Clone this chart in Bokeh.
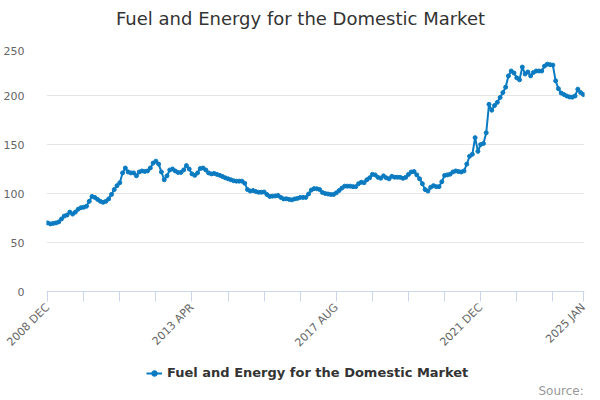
import math
from bokeh.plotting import figure
from bokeh.layouts import column
from bokeh.models import Range1d, FixedTicker, Legend, LegendItem, Label, ColumnDataSource
from bokeh.embed import file_html
from bokeh.resources import INLINE

# ---- data ----
start_year, start_month = 2008, 12
series_name = "Fuel and Energy for the Domestic Market"
chart_title = "Fuel and Energy for the Domestic Market"
values = [
    70, 69, 69.5, 70, 71, 74, 77, 78, 81, 79,
    81, 84, 85.5, 86, 87, 92, 97, 96, 94, 92,
    91, 92, 94.5, 99, 104, 108, 111, 121, 126, 122,
    121, 121, 118, 122, 123, 122.5, 123, 126, 131, 133,
    130, 122, 114, 118, 124, 125, 123, 121.5, 121.5, 124,
    128.5, 125, 120, 118.5, 121, 125.5, 126, 124, 121, 120,
    120.5, 119.5, 118.5, 117.3, 116, 115, 114, 113, 112.6, 112.6,
    112.6, 110.5, 104, 102.5, 103, 102, 101.3, 101.3, 101.5, 99,
    97, 97.3, 97.5, 98, 96, 94.5, 94.6, 94, 93.5, 94.5,
    95, 96, 96, 96, 99.5, 103.5, 105, 104.8, 104, 101,
    100, 99.5, 99, 99, 100.7, 103, 105.5, 107.5, 107.5, 107.5,
    107, 107, 110, 111.5, 111, 114, 116, 119.5, 119, 116.5,
    115.6, 118, 116, 115, 117.5, 116.6, 116.6, 116.5, 115.5, 116.5,
    119.5, 122, 122.4, 119, 115, 110, 104, 102.5, 106.4, 108,
    107, 107, 112, 118.4, 119, 119.7, 122, 123, 122.4, 122,
    123, 130, 138, 140, 157, 143, 150, 151, 162, 191,
    185, 189.8, 193, 198, 203, 208.5, 220, 225, 223, 218,
    216, 229, 222, 224, 220, 223.5, 225, 225, 225, 230,
    232, 231.5, 231, 215, 207, 202.5, 201, 199.5, 198.5, 198.3,
    199.5, 206.5, 203, 201,
]
month_names = ["JAN", "FEB", "MAR", "APR", "MAY", "JUN",
               "JUL", "AUG", "SEP", "OCT", "NOV", "DEC"]
tick_labels = ["2008 DEC", "2013 APR", "2017 AUG", "2021 DEC", "2025 JAN"]
y_ticks = [0, 50, 100, 150, 200, 250]
tick_step = 13
credit_text = "Source:"

n = len(values)
months = []
for i in range(n):
    m = start_month - 1 + i
    months.append(f"{start_year + m // 12} {month_names[m % 12]}")
xs = list(range(n))
x_ticks = list(range(0, n, tick_step)) + [n - 1]
overrides = {t: (months[t] if months[t] in tick_labels else "") for t in x_ticks}

FONT = "DejaVu Sans"
COLOR = "#0b7bc1"

src = ColumnDataSource(dict(x=xs, y=values, month=months))


def strip(height):
    f = figure(width=600, height=height, output_backend="svg", toolbar_location=None,
               title=None, x_range=Range1d(0, 1), y_range=Range1d(0, 1),
               min_border=0, min_border_left=0, min_border_right=0,
               min_border_top=0, min_border_bottom=0)
    f.axis.visible = False
    f.grid.visible = False
    f.outline_line_color = None
    f.background_fill_color = "white"
    f.border_fill_color = "white"
    return f


# ---- title strip ----
t = strip(46)
t.add_layout(Label(x=254, y=28, x_units="screen", y_units="screen",
                   text=chart_title, text_align="center", text_baseline="middle",
                   text_font=FONT, text_font_size="18px", text_color="#333333"))

# ---- main chart ----
p = figure(width=600, height=312, output_backend="svg", toolbar_location=None,
           title=None, x_range=Range1d(-0.4, n - 1 + 0.4), y_range=Range1d(0, 250),
           min_border_left=46, min_border_right=16, min_border_top=0,
           min_border_bottom=67)
p.outline_line_color = None
p.background_fill_color = "white"
p.border_fill_color = "white"

p.ygrid.grid_line_color = "#e6e6e6"
p.xgrid.grid_line_color = None

p.yaxis.ticker = FixedTicker(ticks=y_ticks)
p.yaxis.axis_line_color = None
p.yaxis.major_tick_line_color = None
p.yaxis.minor_tick_line_color = None
p.yaxis.major_label_text_font = FONT
p.yaxis.major_label_text_font_size = "11px"
p.yaxis.major_label_text_color = "#666666"
p.yaxis.major_label_standoff = 16

p.xaxis.ticker = FixedTicker(ticks=x_ticks)
p.xaxis.major_label_overrides = overrides
p.xaxis.major_label_orientation = math.pi / 4
p.xaxis.axis_line_color = "#ccd6eb"
p.xaxis.major_tick_line_color = "#ccd6eb"
p.xaxis.major_tick_out = 10
p.xaxis.major_tick_in = 0
p.xaxis.minor_tick_line_color = None
p.xaxis.major_label_text_font = FONT
p.xaxis.major_label_text_font_size = "11px"
p.xaxis.major_label_text_color = "#666666"
p.xaxis.major_label_standoff = 4

p.line("x", "y", source=src, line_color=COLOR, line_width=2)
p.scatter("x", "y", source=src, size=4, color=COLOR)

# ---- legend / credit strip (same series, view range shows no data) ----
q = strip(42)
ln = q.line("x", "y", source=src, line_color=COLOR, line_width=2)
dots = q.scatter("x", "y", source=src, size=4, color=COLOR)
legend = Legend(items=[LegendItem(label=series_name, renderers=[ln, dots])],
                orientation="horizontal", location=(100, 20),
                border_line_color=None, background_fill_alpha=0,
                label_text_font=FONT, label_text_font_style="bold",
                label_text_font_size="13px", label_text_color="#333333",
                glyph_width=16, glyph_height=14, label_standoff=5,
                label_height=14, padding=0, margin=0)
q.add_layout(legend, "center")
q.add_layout(Label(x=492, y=10, x_units="screen", y_units="screen",
                   text=credit_text, text_align="left", text_baseline="middle",
                   text_font=FONT, text_font_size="12px", text_color="#999999"))

layout = column(t, p, q, spacing=0)
open("out.html", "w").write(file_html(layout, INLINE))
